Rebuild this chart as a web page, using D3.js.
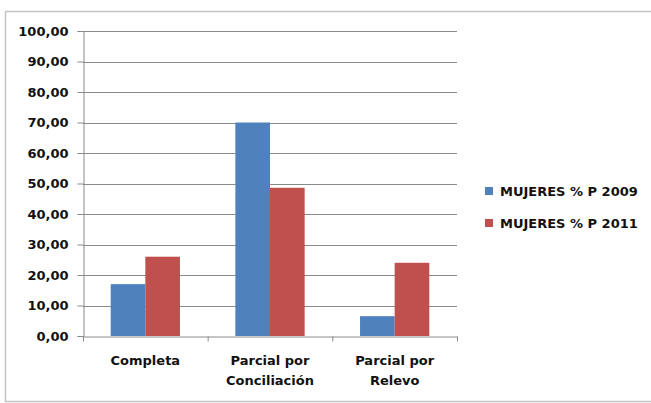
<!DOCTYPE html>
<html>
<head>
<meta charset="utf-8">
<script src="https://cdn.jsdelivr.net/npm/d3@7"></script>
<style>
  html, body { margin: 0; padding: 0; background: #fff; }
  svg text { font-family: "DejaVu Sans", "Liberation Sans", sans-serif; font-weight: bold; fill: #111; }
</style>
</head>
<body>
<svg id="chart" width="651" height="403"></svg>
<script>
// Tipo de jornada y porcentaje de mujeres por año
const categories = [["Completa"], ["Parcial por", "Conciliación"], ["Parcial por", "Relevo"]];
const categoryKeys = ["Completa", "Parcial por Conciliación", "Parcial por Relevo"];
const seriesNames = ["MUJERES % P 2009", "MUJERES % P 2011"];
const values2009 = [17.0, 70.0, 6.5];
const values2011 = [26.0, 48.6, 24.0];
const yTicks = [0, 10, 20, 30, 40, 50, 60, 70, 80, 90, 100];
const colors = ["#4f81bd", "#c0504d"];

const svg = d3.select("#chart");

// chart frame
svg.append("rect")
  .attr("x", 5.5).attr("y", 11.5)
  .attr("width", 660).attr("height", 390)
  .attr("fill", "#fff").attr("stroke", "#c4c4c4").attr("stroke-width", 1.5);

const plot = { left: 83, right: 457, top: 31, bottom: 336 };

const y = d3.scaleLinear().domain([0, 100]).range([plot.bottom, plot.top]);
const x0 = d3.scaleBand().domain(categoryKeys).range([plot.left, plot.right]).padding(0);
const x1 = d3.scaleBand().domain(seriesNames).range([0, x0.bandwidth()])
  .paddingInner(0).paddingOuter(0.8);

const fmt = d => d3.format(".2f")(d).replace(".", ",");

// horizontal gridlines
svg.append("g").selectAll("line").data(yTicks.filter(t => t > 0)).join("line")
  .attr("x1", plot.left).attr("x2", plot.right)
  .attr("y1", d => Math.round(y(d)) + 0.5).attr("y2", d => Math.round(y(d)) + 0.5)
  .attr("stroke", "#8a8a8a").attr("stroke-width", 1);

// bars
const groups = svg.append("g").selectAll("g").data(categoryKeys).join("g")
  .attr("transform", d => `translate(${x0(d)},0)`);
groups.selectAll("rect")
  .data((d, i) => [values2009[i], values2011[i]].map((v, j) => ({ name: seriesNames[j], v, j })))
  .join("rect")
  .attr("x", d => x1(d.name))
  .attr("width", x1.bandwidth())
  .attr("y", d => y(d.v))
  .attr("height", d => y(0) - y(d.v))
  .attr("fill", d => colors[d.j]);

// y axis
const yAxis = svg.append("g")
  .attr("transform", `translate(${plot.left + 0.5},0)`)
  .call(d3.axisLeft(y).tickValues(yTicks).tickFormat(fmt).tickSize(6).tickPadding(9));
yAxis.select(".domain").attr("stroke", "#8a8a8a");
yAxis.selectAll(".tick line").attr("stroke", "#8a8a8a");
yAxis.selectAll(".tick text").attr("font-size", 13).style("font-family", null);

// x axis
const xAxis = svg.append("g")
  .attr("transform", `translate(0,${plot.bottom + 0.5})`)
  .call(d3.axisBottom(x0).tickValues([]).tickSizeOuter(0));
xAxis.select(".domain").attr("stroke", "#8a8a8a");
xAxis.selectAll("line.sep")
  .data(d3.range(categoryKeys.length + 1)).join("line").attr("class", "sep")
  .attr("x1", i => plot.left + i * x0.step() + 0.5)
  .attr("x2", i => plot.left + i * x0.step() + 0.5)
  .attr("y1", 0).attr("y2", 5)
  .attr("stroke", "#8a8a8a");

// category labels
const catLabels = svg.append("g").selectAll("text").data(categories).join("text")
  .attr("x", (d, i) => x0(categoryKeys[i]) + x0.bandwidth() / 2)
  .attr("y", 365)
  .attr("text-anchor", "middle")
  .attr("font-size", 13);
catLabels.selectAll("tspan").data(d => d).join("tspan")
  .attr("x", function () { return this.parentNode.getAttribute("x"); })
  .attr("dy", (d, i) => i === 0 ? 0 : 20)
  .text(d => d);

// legend
const legend = svg.append("g").selectAll("g").data(seriesNames).join("g")
  .attr("transform", (d, i) => `translate(485,${191 + i * 32})`);
legend.append("rect")
  .attr("x", 0).attr("y", -4).attr("width", 8).attr("height", 8)
  .attr("fill", (d, i) => colors[i]);
legend.append("text")
  .attr("x", 15).attr("y", 4.5)
  .attr("font-size", 13)
  .text(d => d);
</script>
</body>
</html>
